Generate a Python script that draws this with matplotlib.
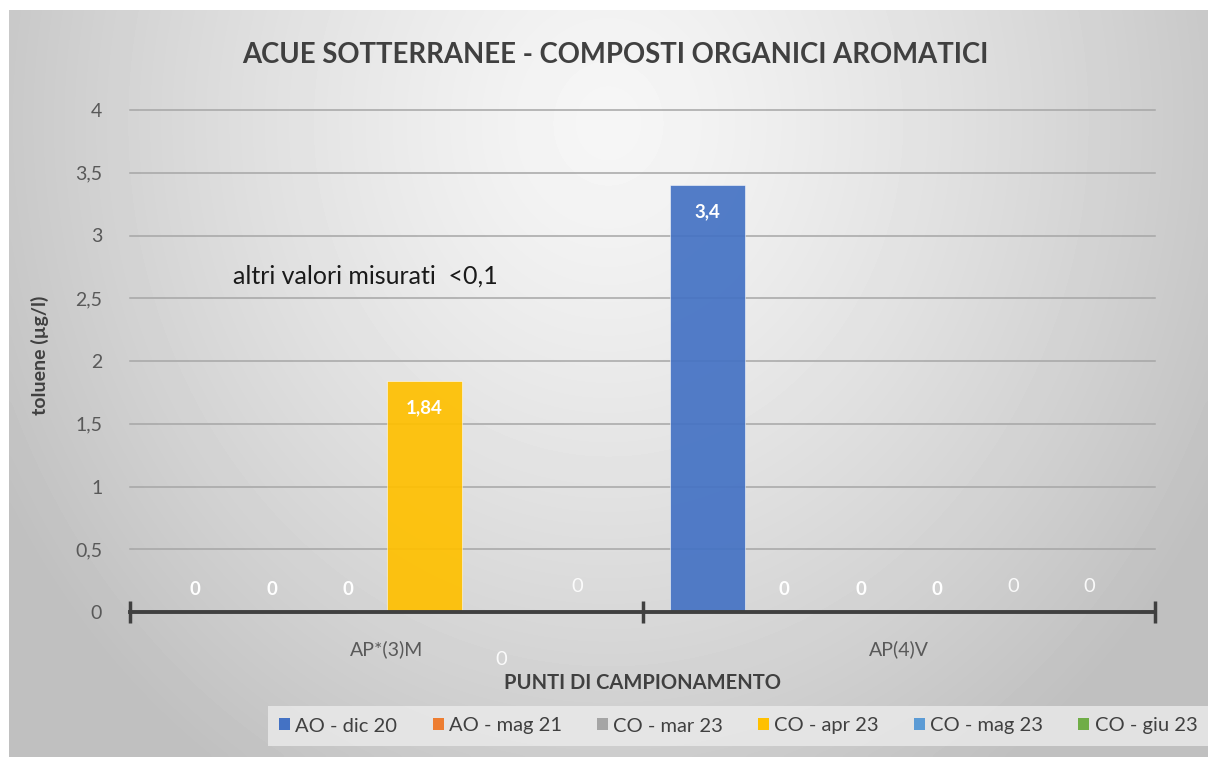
import numpy as np
import matplotlib
matplotlib.use('Agg')
import matplotlib.pyplot as plt
from matplotlib.patches import Patch

plt.rcParams['font.family'] = ['Lato', 'DejaVu Sans']

# Data
categories = ['AP*(3)M', 'AP(4)V']
series = ['AO - dic 20', 'AO - mag 21', 'CO - mar 23', 'CO - apr 23', 'CO - mag 23', 'CO - giu 23']
colors = ['#4472C4', '#ED7D31', '#A5A5A5', '#FFC000', '#5B9BD5', '#70AD47']
values = [
    [0, 3.4],     # AO - dic 20
    [0, 0],       # AO - mag 21
    [0, 0],       # CO - mar 23
    [1.84, 0],    # CO - apr 23
    [0, 0],       # CO - mag 23
    [0, 0],       # CO - giu 23
]
yticks = [0, 0.5, 1, 1.5, 2, 2.5, 3, 3.5, 4]
ytick_labels = ['0', '0,5', '1', '1,5', '2', '2,5', '3', '3,5', '4']

W, H = 1208, 764
fig = plt.figure(figsize=(W / 100, H / 100), dpi=100)
fig.patch.set_facecolor('white')

# background gradient (chart area frame)
bg = fig.add_axes([9 / W, 7 / H, 1 - 9 / W, 1 - 17 / H], zorder=-10)
gx, gy = np.meshgrid(np.linspace(0, 1, 300), np.linspace(0, 1, 200))
d = np.sqrt(((gx - 0.5) / 0.55) ** 2 + ((gy - 0.85) / 1.0) ** 2)
shade = np.clip(0.965 - 0.2 * np.clip(d, 0, 1.05) ** 1.3, 0, 1)
bg.imshow(shade, cmap='gray', vmin=0, vmax=1, origin='lower', aspect='auto',
          extent=[0, 1, 0, 1], interpolation='bicubic')
bg.axis('off')

ax = fig.add_axes([130 / W, (H - 612) / H, (1155 - 130) / W, 502 / H])
ax.set_facecolor('none')

x = np.arange(len(categories))
slot = 0.149
width = 0.146
n = len(series)
for i, (name, vals) in enumerate(zip(series, values)):
    xs = x + (i - (n - 1) / 2) * slot
    ax.bar(xs, vals, width=width, color=colors[i], alpha=0.92, zorder=3,
           edgecolor='#FFFFFF', linewidth=0.4, label=name)
    for xi, v, ci in zip(xs, vals, range(len(categories))):
        txt = f'{v:g}'.replace('.', ',')
        if v > 0:
            ax.text(xi, v - 0.21, txt, ha='center', va='center', color='white',
                    fontsize=13.5, fontweight='bold', zorder=4)
        elif i >= 4:
            # lighter labels for the last two series
            yy = -0.38 if (i == 4 and ci == 0) else 0.2
            ax.text(xi, yy, txt, ha='center', va='center', color='white', alpha=0.9,
                    fontsize=14.5, fontweight='normal', zorder=4)
        else:
            ax.text(xi, 0.18, txt, ha='center', va='center', color='white',
                    fontsize=13.5, fontweight='bold', zorder=4)

ax.set_xlim(-0.5, len(categories) - 0.5)
ax.set_ylim(0, 4)
ax.set_yticks(yticks)
ax.set_yticklabels(ytick_labels)
ax.tick_params(axis='y', length=0, pad=20, labelsize=14, labelcolor='#595959')
for yv in yticks[1:]:
    ax.axhline(yv, color='#A6A6A6', linewidth=1.1, zorder=1, clip_on=False)

ax.set_xticks([-0.5, 0.5, 1.5])
ax.set_xticklabels(['', '', ''])
ax.tick_params(axis='x', which='major', direction='inout', length=16, width=2.5, color='#404040')
ax.set_xticks(x, minor=True)
ax.set_xticklabels(categories, minor=True)
ax.tick_params(axis='x', which='minor', length=0, pad=20, labelsize=14, labelcolor='#595959')

for s in ['top', 'right', 'left']:
    ax.spines[s].set_visible(False)
ax.spines['bottom'].set_color('#404040')
ax.spines['bottom'].set_linewidth(2.8)
ax.spines['bottom'].set_zorder(5)

ax.text(-0.299, 2.68, 'altri valori misurati  <0,1', ha='left', va='center',
        fontsize=18, color='#1A1A1A')

fig.text(615 / W, 1 - 55 / H, 'ACUE SOTTERRANEE - COMPOSTI ORGANICI AROMATICI',
         ha='center', va='center', fontsize=19.8, fontweight='bold', color='#404040')
fig.text(40 / W, 1 - 355 / H, 'toluene (µg/l)', rotation=90, ha='center', va='center',
         fontsize=14, fontweight='bold', color='#404040')
fig.text(642 / W, 1 - 683 / H, 'PUNTI DI CAMPIONAMENTO', ha='center', va='center',
         fontsize=14.5, fontweight='bold', color='#404040')

handles = [Patch(facecolor=c, edgecolor='none') for c in colors]
leg = fig.legend(handles, series, loc='center left', ncol=6, bbox_to_anchor=(258 / W, 1 - 726 / H),
                 frameon=True, fontsize=14.5, handlelength=0.55, handleheight=0.55,
                 handletextpad=0.25, columnspacing=1.75, borderpad=0.55, fancybox=False)
leg.get_frame().set_facecolor('#EBEBEB')
leg.get_frame().set_edgecolor('none')
for t in leg.get_texts():
    t.set_color('#404040')

fig.savefig('out.png', dpi=100)
